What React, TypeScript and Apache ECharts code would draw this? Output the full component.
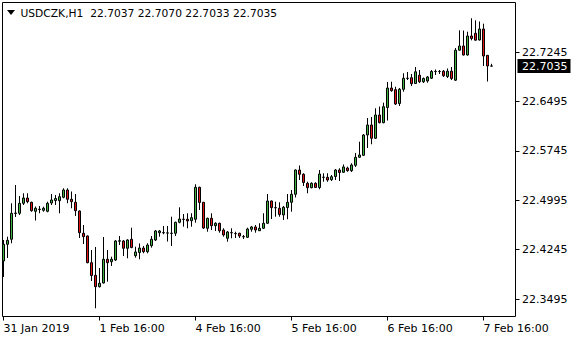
import React, { useEffect, useRef } from "react";
import * as echarts from "echarts";

const symbolName = "USDCZK,H1";
const tickLabels = ["31 Jan 2019", "1 Feb 16:00", "4 Feb 16:00", "5 Feb 16:00", "6 Feb 16:00", "7 Feb 16:00"];
const barsPerLabel = 24;
const slotCount = 129;
const priceTicks = [22.3495, 22.4245, 22.4995, 22.5745, 22.6495, 22.7245];
const yMin = 22.3229;
const yMax = 22.8002;

const openValues = [
  22.4073, 22.4327, 22.4403, 22.4795, 22.4798, 22.495, 22.503, 22.4965, 22.4828, 22.4856,
  22.4843, 22.4828, 22.4954, 22.4992, 22.4989, 22.5041, 22.5152, 22.5011, 22.4965, 22.4833,
  22.4494, 22.4453, 22.4047, 22.3855, 22.3682, 22.3738, 22.4099, 22.4062, 22.4088, 22.4374,
  22.4377, 22.4266, 22.4403, 22.4153, 22.4202, 22.427, 22.4214, 22.4305, 22.4392, 22.4503,
  22.4501, 22.4497, 22.4492, 22.4494, 22.4661, 22.4705, 22.4707, 22.4685, 22.4707, 22.5193,
  22.4965, 22.457, 22.4722, 22.4609, 22.4646, 22.4544, 22.4418, 22.4501, 22.4488, 22.4494,
  22.4441, 22.4433, 22.4555, 22.459, 22.4533, 22.457, 22.4646, 22.4985, 22.4881, 22.4874,
  22.4772, 22.4886, 22.4965, 22.5087, 22.5456, 22.5391, 22.5254, 22.5187, 22.5254, 22.519,
  22.5344, 22.5345, 22.5309, 22.5357, 22.5456, 22.5421, 22.5486, 22.5445, 22.5527, 22.5649,
  22.5679, 22.5988, 22.614, 22.5938, 22.6292, 22.6175, 22.6406, 22.6702, 22.6677, 22.6467,
  22.6683, 22.6848, 22.6859, 22.6771, 22.6897, 22.6797, 22.6809, 22.6851, 22.6952, 22.6952,
  22.6958, 22.6877, 22.6958, 22.6821, 22.7277, 22.7341, 22.7204, 22.7493, 22.7534, 22.7432,
  22.7599, 22.7199, 22.7037,
];
const closeValues = [
  22.4327, 22.4387, 22.4798, 22.4802, 22.495, 22.503, 22.4974, 22.4837, 22.4874, 22.486,
  22.4874, 22.495, 22.5, 22.5023, 22.505, 22.5152, 22.5011, 22.4974, 22.4837, 22.4503,
  22.4442, 22.4047, 22.3852, 22.3682, 22.3734, 22.4099, 22.4047, 22.4099, 22.4377, 22.438,
  22.4266, 22.4392, 22.4278, 22.421, 22.427, 22.4214, 22.4316, 22.4403, 22.4529, 22.4529,
  22.4504, 22.45, 22.4495, 22.4661, 22.4711, 22.4708, 22.4681, 22.4731, 22.5193, 22.4962,
  22.4574, 22.4722, 22.4609, 22.4646, 22.4532, 22.4468, 22.4514, 22.4504, 22.4492, 22.4453,
  22.4444, 22.4559, 22.459, 22.4544, 22.457, 22.4646, 22.4985, 22.4883, 22.4884, 22.478,
  22.4889, 22.4965, 22.5087, 22.5456, 22.5391, 22.5266, 22.5187, 22.5254, 22.519, 22.5395,
  22.5347, 22.5304, 22.5354, 22.5456, 22.5418, 22.5502, 22.5445, 22.5532, 22.5649, 22.5684,
  22.5988, 22.614, 22.5938, 22.6292, 22.6175, 22.6418, 22.6702, 22.6661, 22.6459, 22.6683,
  22.685, 22.6851, 22.6768, 22.6949, 22.6797, 22.6847, 22.687, 22.6953, 22.6955, 22.6955,
  22.6889, 22.6958, 22.6847, 22.7277, 22.7341, 22.7204, 22.7493, 22.7455, 22.7429, 22.7599,
  22.7189, 22.7037, 22.7035,
];
const lowValues = [
  22.383, 22.4118, 22.4342, 22.4742, 22.4772, 22.4924, 22.495, 22.4822, 22.4688, 22.4798,
  22.4822, 22.4813, 22.4924, 22.4924, 22.4798, 22.5026, 22.495, 22.4874, 22.4757, 22.4422,
  22.4331, 22.4038, 22.3769, 22.3354, 22.367, 22.3731, 22.3758, 22.3997, 22.4073, 22.4316,
  22.4149, 22.4114, 22.4266, 22.4123, 22.4099, 22.419, 22.419, 22.4275, 22.4377, 22.4442,
  22.4479, 22.4369, 22.4301, 22.4453, 22.4646, 22.4594, 22.457, 22.4594, 22.4655, 22.4848,
  22.4559, 22.4518, 22.4544, 22.4529, 22.4503, 22.4442, 22.4366, 22.4418, 22.4422, 22.4422,
  22.4407, 22.4422, 22.4518, 22.4503, 22.4529, 22.4559, 22.4635, 22.4711, 22.4746, 22.4746,
  22.4696, 22.4707, 22.4822, 22.5038, 22.5304, 22.5213, 22.5102, 22.5178, 22.5184, 22.5163,
  22.5278, 22.5278, 22.5289, 22.5304, 22.5289, 22.541, 22.543, 22.5426, 22.5502, 22.5643,
  22.5669, 22.579, 22.5847, 22.5927, 22.6166, 22.6166, 22.6208, 22.6646, 22.6444, 22.6429,
  22.6646, 22.6824, 22.6733, 22.6763, 22.6778, 22.6778, 22.6783, 22.6839, 22.69, 22.6915,
  22.687, 22.6854, 22.6824, 22.6809, 22.7272, 22.7196, 22.7196, 22.7427, 22.7424, 22.7424,
  22.7037, 22.6801, 22.7033,
];
const highValues = [
  22.4392, 22.4442, 22.495, 22.5228, 22.5061, 22.5102, 22.5102, 22.4974, 22.4901, 22.4909,
  22.4898, 22.4974, 22.5091, 22.5076, 22.5102, 22.5178, 22.5178, 22.5129, 22.5091, 22.484,
  22.462, 22.446, 22.424, 22.4286, 22.3966, 22.4438, 22.424, 22.4138, 22.4392, 22.4453,
  22.4392, 22.4403, 22.4579, 22.429, 22.4339, 22.4301, 22.4342, 22.4453, 22.4544, 22.4544,
  22.4605, 22.4605, 22.4746, 22.467, 22.4889, 22.4787, 22.4798, 22.4798, 22.5239, 22.5202,
  22.497, 22.4731, 22.4798, 22.4661, 22.4655, 22.457, 22.4529, 22.457, 22.4518, 22.4503,
  22.4468, 22.4579, 22.4605, 22.462, 22.4646, 22.4798, 22.5091, 22.4992, 22.4974, 22.4965,
  22.4909, 22.5091, 22.5152, 22.5464, 22.5524, 22.5406, 22.5278, 22.5269, 22.5269, 22.5456,
  22.5406, 22.5406, 22.538, 22.5471, 22.5482, 22.554, 22.5506, 22.5558, 22.5714, 22.5886,
  22.6003, 22.6246, 22.6262, 22.6394, 22.6421, 22.6479, 22.6794, 22.6798, 22.6722, 22.6702,
  22.6926, 22.6946, 22.6915, 22.7022, 22.6976, 22.6862, 22.6885, 22.6976, 22.6984, 22.6976,
  22.6976, 22.6999, 22.7022, 22.731, 22.7579, 22.7576, 22.7558, 22.7762, 22.7731, 22.7713,
  22.768, 22.7204, 22.707,
];

const FONT = "DejaVu Sans";

export default function App() {
  const ref = useRef<HTMLDivElement>(null);
  useEffect(() => {
    if (!ref.current) return;
    const chart = echarts.init(ref.current, undefined, { renderer: "svg" });
    const categories = Array.from({ length: slotCount }, (_, i) => String(i));
    const candles = openValues.map((o, i) => [o, closeValues[i], lowValues[i], highValues[i]]);
    const last = openValues.length - 1;
    const lastClose = closeValues[last];
    const title = `${symbolName}  ${openValues[last].toFixed(4)} ${highValues[last].toFixed(4)} ${lowValues[last].toFixed(4)} ${lastClose.toFixed(4)}`;
    const showIdx = (i: number) => i % barsPerLabel === 0;

    chart.setOption({
      animation: false,
      backgroundColor: "#ffffff",
      grid: { left: 1.5, top: 2.5, width: 516, height: 314, show: false },
      xAxis: {
        type: "category",
        data: categories,
        boundaryGap: true,
        axisLine: { show: false },
        splitLine: { show: false },
        axisTick: {
          show: true,
          alignWithLabel: true,
          interval: (i: number) => showIdx(i),
          length: 4,
          lineStyle: { color: "#000" },
        },
        axisLabel: {
          interval: (i: number) => showIdx(i),
          formatter: (_v: string, i: number) => (showIdx(i) ? tickLabels[i / barsPerLabel] ?? "" : ""),
          align: "left",
          margin: 6,
          color: "#000",
          fontFamily: FONT,
          fontSize: 11,
        },
      },
      yAxis: [
        {
          type: "value",
          position: "right",
          offset: -2,
          min: yMin,
          max: yMax,
          splitLine: { show: false },
          axisLine: { show: false },
          axisTick: { show: true, customValues: priceTicks, length: 4, lineStyle: { color: "#000" } },
          axisLabel: {
            customValues: priceTicks,
            formatter: (v: number) => v.toFixed(4),
            margin: 6.5,
            color: "#000",
            fontFamily: FONT,
            fontSize: 11,
          },
        },
        {
          type: "value",
          position: "right",
          offset: -2,
          min: yMin,
          max: yMax,
          splitLine: { show: false },
          axisLine: { show: false },
          axisTick: { show: false },
          axisLabel: {
            customValues: [lastClose],
            formatter: (v: number) => v.toFixed(4),
            margin: 2,
            color: "#fff",
            backgroundColor: "#000",
            padding: [2, 3, 1, 4.5],
            fontFamily: FONT,
            fontSize: 11,
          },
        },
      ],
      graphic: [
        {
          type: "rect",
          silent: true,
          z: 0,
          shape: { x: 2.5, y: 2.5, width: 513, height: 314 },
          style: { fill: "none", stroke: "#000", lineWidth: 1 },
        },
        {
          type: "polygon",
          silent: true,
          shape: { points: [[7, 10], [15, 10], [11, 15]] },
          style: { fill: "#000" },
        },
        {
          type: "text",
          silent: true,
          x: 20.5,
          y: 13.5,
          style: {
            text: title,
            fill: "#000",
            font: `10.7px "${FONT}"`,
            verticalAlign: "middle",
            align: "left",
          },
        },
      ],
      series: [
        {
          type: "candlestick",
          xAxisIndex: 0,
          yAxisIndex: 0,
          data: candles,
          barWidth: 2,
          itemStyle: {
            color: "#3fb23f",
            color0: "#e01414",
            borderColor: "#000",
            borderColor0: "#000",
            borderColorDoji: "#000",
            borderWidth: 1,
          },
        },
      ],
    });
    return () => chart.dispose();
  }, []);
  return (
    <div
      ref={ref}
      style={{ position: "fixed", left: 0, top: 0, width: 580, height: 340, background: "#fff" }}
    />
  );
}
